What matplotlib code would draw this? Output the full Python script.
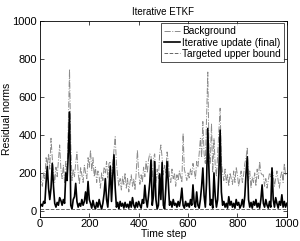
import numpy as np
import matplotlib
matplotlib.use('Agg')
import matplotlib.pyplot as plt

plt.rcParams['font.family'] = ['Liberation Sans', 'DejaVu Sans']

# time steps (every 5th step)
steps = np.arange(0, 1001, 5)

# Background residual norms
background = [
    250, 160, 130, 200, 170, 280, 240, 300, 220, 382,
    280, 210, 150, 230, 180, 260, 347, 220, 170, 240,
    150, 260, 200, 450, 745, 350, 160, 220, 180, 250,
    310, 200, 140, 230, 190, 150, 240, 200, 170, 280,
    230, 320, 210, 280, 180, 230, 150, 210, 180, 120,
    200, 160, 230, 200, 260, 170, 250, 260, 160, 250,
    320, 390, 250, 180, 130, 170, 110, 180, 140, 200,
    120, 170, 100, 150, 190, 130, 170, 110, 200, 320,
    200, 140, 190, 150, 230, 180, 260, 200, 270, 300,
    290, 180, 280, 300, 150, 220, 170, 300, 347, 280,
    190, 240, 200, 310, 260, 180, 150, 220, 170, 200,
    130, 190, 160, 210, 180, 150, 408, 220, 190, 160,
    200, 170, 220, 190, 250, 210, 170, 260, 230, 300,
    382, 280, 470, 300, 250, 480, 730, 300, 250, 460,
    200, 380, 240, 180, 300, 420, 540, 260, 200, 160,
    220, 150, 190, 130, 200, 170, 140, 210, 150, 230,
    190, 130, 170, 210, 150, 190, 250, 280, 335, 160,
    210, 120, 180, 150, 200, 130, 220, 170, 260, 200,
    190, 190, 130, 170, 120, 160, 200, 180, 230, 190,
    130, 170, 210, 160, 120, 180, 210, 150, 250, 190,
    200,
]

# Iterative update (final)
iterative = [
    20, 35, 25, 50, 40, 150, 235, 120, 60, 120,
    250, 130, 40, 20, 45, 30, 70, 55, 30, 60,
    40, 200, 160, 300, 520, 30, 10, 60, 75, 145,
    50, 20, 40, 25, 60, 30, 50, 100, 40, 155,
    60, 40, 15, 55, 25, 10, 45, 20, 60, 30,
    10, 40, 90, 170, 60, 20, 120, 235, 50, 180,
    295, 120, 20, 45, 10, 50, 25, 40, 15, 45,
    20, 35, 15, 50, 20, 70, 30, 15, 45, 20,
    50, 30, 15, 60, 40, 135, 60, 20, 80, 150,
    268, 30, 80, 260, 60, 10, 30, 195, 60, 255,
    30, 10, 120, 260, 150, 30, 50, 20, 60, 30,
    40, 20, 50, 25, 60, 120, 30, 15, 50, 25,
    40, 20, 60, 30, 137, 40, 20, 100, 30, 15,
    60, 130, 226, 80, 20, 150, 434, 200, 30, 60,
    15, 200, 80, 20, 60, 200, 425, 100, 30, 50,
    20, 40, 15, 75, 30, 50, 20, 40, 15, 60,
    30, 45, 15, 30, 60, 20, 80, 200, 285, 60,
    20, 45, 15, 50, 30, 60, 20, 40, 15, 60,
    137, 40, 20, 60, 30, 15, 50, 20, 226, 60,
    20, 70, 40, 15, 50, 30, 85, 20, 50, 20,
    40,
]

# Targeted upper bound (constant)
target = 10

fig = plt.figure(figsize=(3.0, 2.41), dpi=100)
ax = fig.add_axes([0.133, 0.101, 0.823, 0.813])

ax.plot(steps, background, color='0.55', linestyle='-.', linewidth=0.7, label='Background')
ax.plot(steps, iterative, color='black', linestyle='-', linewidth=1.2, label='Iterative update (final)')
ax.plot(steps, np.full(len(steps), target), color='0.4', linestyle='--', linewidth=0.7,
        label='Targeted upper bound')

ax.set_xlim(0, 1000)
ax.set_ylim(-30, 1000)
ax.set_xticks([0, 200, 400, 600, 800, 1000])
ax.set_yticks([0, 200, 400, 600, 800, 1000])
ax.tick_params(direction='in', top=True, right=True, labelsize=8, length=3, width=0.5, pad=2)
for s in ax.spines.values():
    s.set_linewidth(0.6)

ax.set_title('Iterative ETKF', fontsize=7, pad=4)
ax.set_xlabel('Time step', fontsize=7.5, labelpad=0)
ax.set_ylabel('Residual norms', fontsize=7.5)
ax.yaxis.set_label_coords(-0.115, 0.5)

leg = ax.legend(loc='upper right', fontsize=7.3, frameon=True, fancybox=False,
                handlelength=1.6, handletextpad=0.25, borderpad=0.3, labelspacing=0.12,
                borderaxespad=0.25)
leg.get_frame().set_edgecolor('black')
leg.get_frame().set_linewidth(0.6)

plt.savefig('out.png', dpi=100)
